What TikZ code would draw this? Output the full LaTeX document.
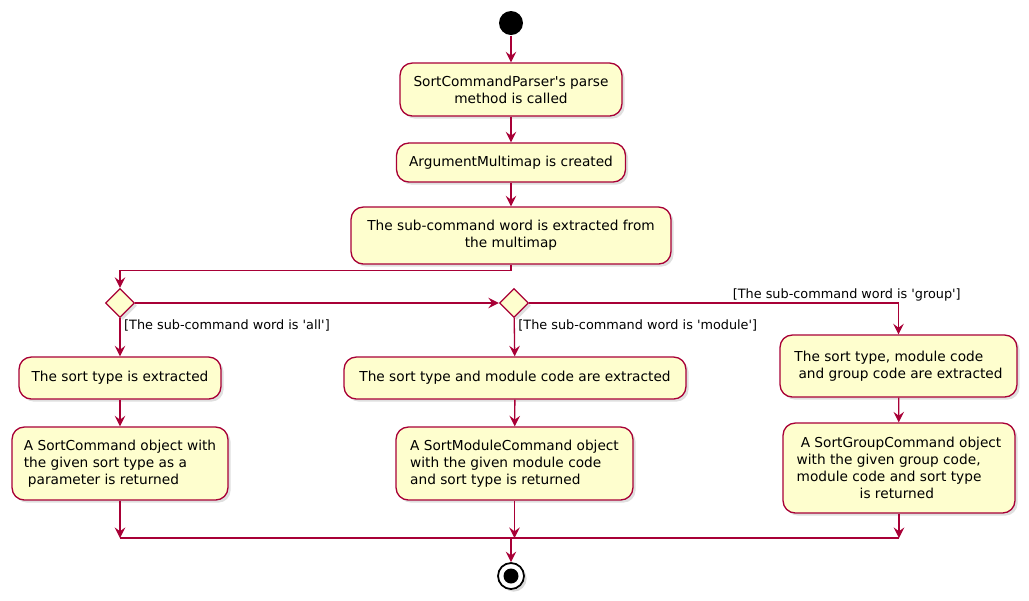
\documentclass[tikz,border=0pt]{standalone}
\usepackage{xcolor}
\usepackage{tikz}
\usetikzlibrary{positioning,shapes,arrows,arrows.meta,calc,shadows}
\usepackage{fontspec}
\setmainfont{DejaVu Sans}
\definecolor{umlred}{RGB}{168, 0, 54}
\definecolor{umlyellow}{RGB}{254, 254, 206}
\newcommand{\qt}{\textquotesingle}

\begin{document}
\begin{tikzpicture}[x=0.02cm, y=-0.02cm, >={Stealth[length=6pt, width=6pt, inset=2.2pt]}, line width=0.75pt,
    activity/.style={rectangle, rounded corners=7pt, draw=umlred, fill=umlyellow, font=\fontsize{7.8}{9.7}\selectfont, inner sep=2pt, drop shadow={shadow xshift=1.5pt, shadow yshift=-1.5pt, opacity=0.25}},
    branch/.style={diamond, draw=umlred, fill=umlyellow, minimum width=0.58cm, minimum height=0.58cm, inner sep=0pt, drop shadow={shadow xshift=1.5pt, shadow yshift=-1.5pt, opacity=0.25}},
    guard/.style={font=\fontsize{7.3}{9}\selectfont, inner sep=2pt},
    flow/.style={->, draw=umlred}]
        \useasboundingbox (0,0) rectangle (1029,600);

        \node[circle, fill=black, minimum size=0.48cm, inner sep=0pt] (start) at (511,23) {};
        \node[activity, align=center, minimum width=4.44cm, minimum height=1.06cm] (parse) at (511,89.5) {SortCommandParser\qt s parse\\method is called};
        \node[activity, minimum width=4.58cm, minimum height=0.78cm] (multimap) at (511,162.5) {ArgumentMultimap is created};
        \node[activity, align=center, minimum width=6.4cm, minimum height=1.14cm] (extract) at (511,235.5) {The sub-command word is extracted from\\the multimap};

        \node[branch] (allcheck) at (120,303) {};
        \node[branch] (modcheck) at (514,303) {};

        \node[activity, minimum width=4.04cm, minimum height=0.84cm] (alltype) at (120,378) {The sort type is extracted};
        \node[activity, align=left, minimum width=4.32cm, minimum height=1.46cm] (allret) at (120,463.5) {A SortCommand object with\\the given sort type as a\\\hspace*{0.3em}parameter is returned};
        \node[activity, minimum width=6.84cm, minimum height=0.84cm] (modtype) at (515,378) {The sort type and module code are extracted};
        \node[activity, align=left, minimum width=4.74cm, minimum height=1.46cm] (modret) at (514.5,463.5) {A SortModuleCommand object\\with the given module code\\and sort type is returned};
        \node[activity, align=left, minimum width=4.74cm, minimum height=1.24cm] (grouptype) at (898.5,366) {The sort type, module code\\\hspace*{0.3em}and group code are extracted};
        \node[activity, align=left, minimum width=4.64cm, minimum height=1.8cm] (groupret) at (899,468) {\hspace*{0.3em}A SortGroupCommand object\\with the given group code,\\module code and sort type\\\hspace*{4.6em}is returned};

        \coordinate (merge) at (511,538);
        \node[circle, draw=black, fill=white, line width=1pt, minimum size=0.52cm, inner sep=0pt, drop shadow={shadow xshift=1.5pt, shadow yshift=-1.5pt, opacity=0.3}] (stop) at (511,576) {};
        \fill[black] (stop) circle (0.15cm);

        \draw[flow] (start) -- (parse);
        \draw[flow] (parse) -- (multimap);
        \draw[flow] (multimap) -- (extract);
        \draw[flow] (extract.south) -- ++(0,6) -| (allcheck);
        \draw[flow] (allcheck) -- (modcheck);
        \draw[flow] (allcheck) -- node[guard, right, pos=0.2] {[The sub-command word is \qt all\qt]} (alltype);
        \draw[flow] (modcheck) -- node[guard, right, pos=0.2] {[The sub-command word is \qt module\qt]} (modtype);
        \draw[flow] (modcheck) -| node[guard, above=0pt, pos=0.43, yshift=-1.5pt] {[The sub-command word is \qt group\qt]} (grouptype);
        \draw[flow] (alltype) -- (allret);
        \draw[flow] (modtype) -- (modret);
        \draw[flow] (grouptype) -- (groupret);

        \draw[flow] (allret) -- (allret |- merge);
        \draw[flow] (modret) -- (modret |- merge);
        \draw[flow] (groupret) -- (groupret |- merge);
        \draw[umlred] (allret |- merge) -- (groupret |- merge);
        \draw[flow] (merge) -- (stop);
    \end{tikzpicture}
\end{document}
